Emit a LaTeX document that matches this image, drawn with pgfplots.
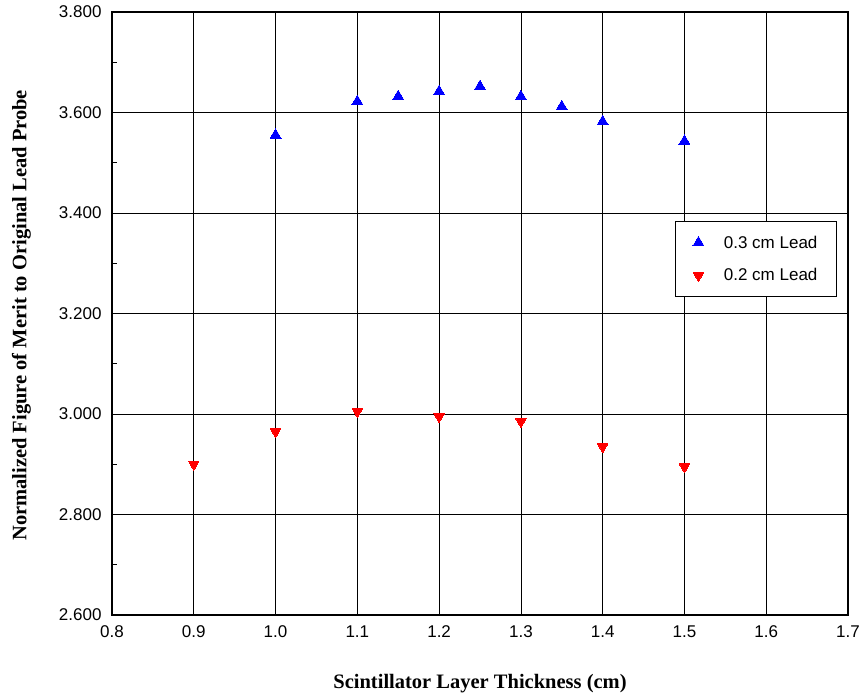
\documentclass[border=0pt]{standalone}
\usepackage{pgfplots}
\pgfplotsset{compat=1.18}
\usepackage{fontspec}
\setmainfont{Liberation Sans}
\newfontfamily\serifb{Liberation Serif}
\begin{document}
\begin{tikzpicture}
\begin{axis}[
  name=ax,
  scale only axis,
  width=736pt, height=603pt,
  xmin=0.8, xmax=1.7, ymin=2.6, ymax=3.8,
  xtick={0.8,0.9,...,1.71},
  ytick={2.6,2.8,3.0,3.2,3.4,3.6,3.8},
  minor y tick num=1,
  grid=major,
  major grid style={black, line width=0.6pt},
  axis line style={black, line width=1.2pt},
  tick style={black, line width=0.6pt},
  tick align=inside,
  xtick pos=bottom, ytick pos=left,
  major tick length=0pt, minor tick length=5pt,
  /pgf/number format/assume math mode=true,
  xticklabel style={/pgf/number format/fixed, /pgf/number format/fixed zerofill, /pgf/number format/precision=1, font=\fontsize{17}{20}\selectfont, yshift=-7pt},
  yticklabel style={/pgf/number format/fixed, /pgf/number format/fixed zerofill, /pgf/number format/precision=3, font=\fontsize{17}{20}\selectfont, xshift=-7pt},
  xlabel={Scintillator Layer Thickness (cm)},
  ylabel={Normalized Figure of Merit to Original Lead Probe},
  xlabel style={at={(axis description cs:0.5,-0.114)}, anchor=center, font=\serifb\bfseries\fontsize{20.5}{24}\selectfont},
  ylabel style={at={(axis description cs:-0.123,0.497)}, anchor=center, rotate=0, font=\serifb\bfseries\fontsize{20.5}{24}\selectfont},
  legend style={at={(axis description cs:0.985,0.653)}, anchor=north east, draw=black, line width=1pt, fill=white, font=\fontsize{17}{20}\selectfont, row sep=15pt, inner xsep=17pt, inner ysep=12pt},
  legend cell align=left,
]
\addplot[only marks, mark=triangle*, mark size=6.3pt, color=blue, mark options={fill=blue, draw=blue, line width=0pt}]
coordinates {(1.0,3.555) (1.1,3.622) (1.15,3.632) (1.2,3.642) (1.25,3.652) (1.3,3.632) (1.35,3.612) (1.4,3.582) (1.5,3.543)};
\addlegendentry{\hspace{18pt}0.3 cm Lead}
\addplot[only marks, mark=triangle*, mark size=6pt, color=red, mark options={fill=red, draw=red, rotate=180, line width=0pt}]
coordinates {(0.9,2.900) (1.0,2.965) (1.1,3.005) (1.2,2.995) (1.3,2.985) (1.4,2.935) (1.5,2.895)};
\addlegendentry{\hspace{18pt}0.2 cm Lead}
\end{axis}
\pgfresetboundingbox
\path ([shift={(-112pt,-81pt)}]ax.south west) rectangle ([shift={(15pt,12pt)}]ax.north east);
\end{tikzpicture}
\end{document}
